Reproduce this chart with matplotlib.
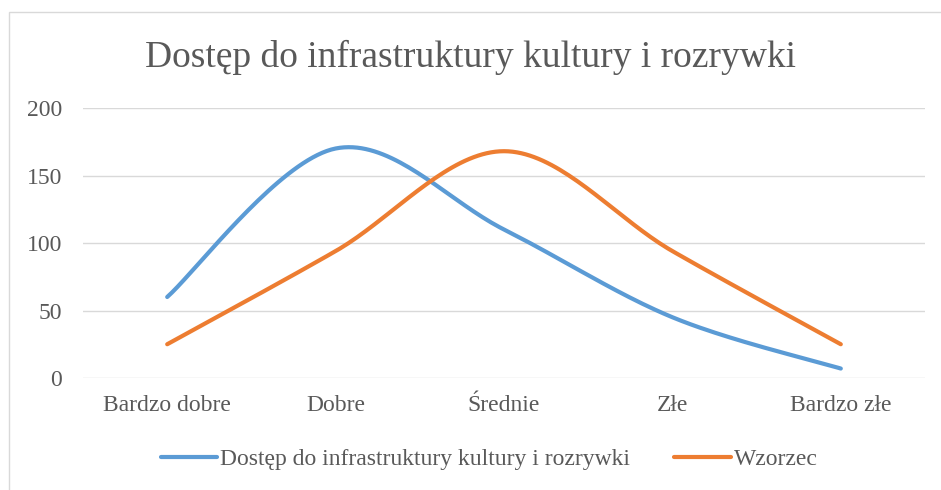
import numpy as np
import matplotlib.pyplot as plt
from matplotlib.patches import Rectangle

categories = ["Bardzo dobre", "Dobre", "Średnie", "Złe", "Bardzo złe"]
dostep = [60, 170, 110, 45, 7]
wzorzec = [25, 94, 168, 94, 25]
y_ticks = [0, 50, 100, 150, 200]

plt.rcParams['font.family'] = ['Liberation Serif', 'DejaVu Serif']


def smooth(xs, ys, n=40):
    # Excel-like smoothed line: Catmull-Rom style cubic Bezier segments
    xs = np.asarray(xs, float)
    ys = np.asarray(ys, float)
    px = np.concatenate([[xs[0]], xs, [xs[-1]]])
    py = np.concatenate([[ys[0]], ys, [ys[-1]]])
    out_x, out_y = [], []
    t = np.linspace(0, 1, n)
    for i in range(1, len(px) - 2):
        p0x, p1x, p2x, p3x = px[i - 1], px[i], px[i + 1], px[i + 2]
        p0y, p1y, p2y, p3y = py[i - 1], py[i], py[i + 1], py[i + 2]
        c1x, c1y = p1x + (p2x - p0x) / 6, p1y + (p2y - p0y) / 6
        c2x, c2y = p2x - (p3x - p1x) / 6, p2y - (p3y - p1y) / 6
        bx = (1-t)**3*p1x + 3*(1-t)**2*t*c1x + 3*(1-t)*t**2*c2x + t**3*p2x
        by = (1-t)**3*p1y + 3*(1-t)**2*t*c1y + 3*(1-t)*t**2*c2y + t**3*p2y
        out_x.extend(bx)
        out_y.extend(by)
    return np.array(out_x), np.array(out_y)


fig = plt.figure(figsize=(9.41, 4.9), dpi=100)
ax = fig.add_axes([83/941, 1 - 378/490, (925-83)/941, (378-108)/490])

x = np.arange(len(categories))
for vals, color, label in [(dostep, '#5B9BD5', 'Dostęp do infrastruktury kultury i rozrywki'),
                           (wzorzec, '#ED7D31', 'Wzorzec')]:
    sx, sy = smooth(x, vals)
    ax.plot(sx, sy, color=color, lw=3, solid_capstyle='round', label=label, zorder=3)

ax.set_xlim(-0.5, len(categories) - 0.5)
ax.set_ylim(0, 200)
ax.set_yticks(y_ticks)
ax.set_xticks(x)
ax.set_xticklabels(categories)
ax.tick_params(axis='both', length=0, labelsize=17, colors='#595959')
ax.tick_params(axis='x', pad=12)
ax.tick_params(axis='y', pad=15)
ax.grid(axis='y', color='#d9d9d9', lw=1)
ax.set_axisbelow(True)
for s in ax.spines.values():
    s.set_visible(False)

fig.text(0.5, 1 - 57/490, 'Dostęp do infrastruktury kultury i rozrywki',
         ha='center', va='center', fontsize=27, color='#595959')

fig.legend(loc='center', bbox_to_anchor=(489/941, 1 - 459/490), ncol=2, frameon=False,
           fontsize=17, handlelength=2.4, columnspacing=1.9, handletextpad=0.1,
           labelcolor='#595959')

fig.add_artist(Rectangle((9/941, -0.05), 1.0, 1.05 - 12/490, transform=fig.transFigure,
                         fill=False, edgecolor='#d9d9d9', lw=1))

fig.savefig('out.png', dpi=100)
